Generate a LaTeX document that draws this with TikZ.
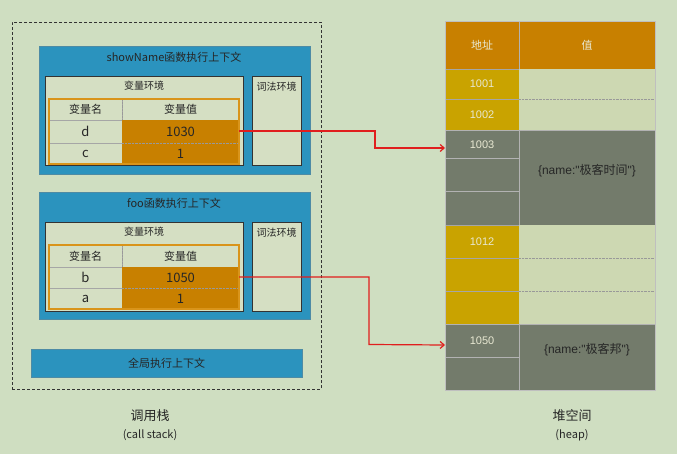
\documentclass[tikz,border=0pt]{standalone}
\usepackage{fontspec}
\setmainfont{Noto Sans CJK SC}
\newfontfamily\numfont{Liberation Sans}
\usetikzlibrary{arrows.meta}
\definecolor{bgc}{HTML}{CFDEC1}
\definecolor{ctxblue}{HTML}{2B93BE}
\definecolor{envfill}{HTML}{D5DFC3}
\definecolor{valorange}{HTML}{C88000}
\definecolor{tblborder}{HTML}{D9941A}
\definecolor{addryellow}{HTML}{C9A300}
\definecolor{heapgray}{HTML}{737B6B}
\definecolor{heaplight}{HTML}{CDD8B2}
\definecolor{arrowred}{HTML}{E01E1E}
\definecolor{addrtext}{HTML}{E8E8D2}
\newcommand\rect[6]{\node[#1, minimum width={(#4-#2)*1pt}, minimum height={(#5-#3)*1pt}] (#6) at (#2pt,-#3pt) {};}
\newcommand\lat[1]{{\numfont #1}}
\tikzset{
  box/.style={anchor=north west, inner sep=0pt, outer sep=0pt},
  ctx/.style={box, fill=ctxblue, draw=ctxblue!60!gray, line width=0.5pt},
  env/.style={box, fill=envfill, draw=black!80, line width=0.7pt},
  lightcell/.style={box, fill=envfill, draw=black!35, line width=0.4pt},
  valcell/.style={box, fill=valorange},
  tblframe/.style={box, draw=tblborder, line width=1.1pt},
  hhead/.style={box, fill=valorange, draw=black!30, line width=0.3pt},
  addr/.style={box, fill=addryellow, draw=black!35, line width=0.4pt},
  grayaddr/.style={box, fill=heapgray, draw=black!30, line width=0.4pt},
  hval/.style={box, fill=heaplight},
  grayval/.style={box, fill=heapgray, draw=black!30, line width=0.4pt},
  ttl/.style={font=\fontsize{11}{13}\selectfont, text=black!85},
  small/.style={font=\fontsize{10}{12}\selectfont, text=black!85},
  cellt/.style={font=\fontsize{11}{13}\selectfont, text=black!85},
  big/.style={font=\fontsize{13}{15}\selectfont, text=black!85},
  num/.style={font=\numfont\fontsize{11}{13}\selectfont, text=addrtext},
  objt/.style={font=\fontsize{12}{14}\selectfont, text=black!85},
  link/.style={draw=arrowred, line width=1.2pt, -{Straight Barb[length=4pt,width=7pt]}},
  sep/.style={draw=black!40, line width=0.4pt, densely dotted},
}
\begin{document}
\begin{tikzpicture}[x=1pt,y=1pt]
\fill[bgc] (0,0) rectangle (677,-454);
\useasboundingbox (0,0) rectangle (677,-454);
% outer call stack frame
\rect{box, draw=black!80, line width=0.8pt, densely dashed}{12}{22}{321}{389}{stack}
% showName context
\rect{ctx}{39}{46}{310}{174}{ctxA}
\node[ttl] (ctxAt) at (174,-57) {showName函数执行上下文};
\rect{env}{45}{76}{243}{165}{venvA}
\node[small] (venvAt) at (144,-86) {变量环境};
\rect{env}{252}{76}{301}{165}{lenvA}
\node[small, anchor=north] (lenvAt) at (276.5,-79) {词法环境};
\rect{lightcell}{49}{99}{122}{120}{hA1}
\rect{lightcell}{122}{99}{239}{120}{hA2}
\rect{lightcell}{49}{120}{122}{143}{nd}
\rect{lightcell}{49}{143}{122}{164}{nc}
\rect{valcell}{122}{120}{239}{143}{vd}
\rect{valcell}{122}{143}{239}{164}{vc}
\draw[sep] (vd.south west) -- (vd.south east);
\draw[sep] (hA1.north east) -- (hA1.south east);
\rect{tblframe}{49}{99}{239}{164}{tblA}
\node[cellt] at (hA1) {变量名};
\node[cellt] at (hA2) {变量值};
\node[big] at (nd) {d};
\node[big] at (nc) {c};
\node[big] at (vd) {1030};
\node[big] at (vc) {1};
% foo context
\rect{ctx}{39}{192}{310}{319}{ctxB}
\node[ttl] (ctxBt) at (174,-203) {foo函数执行上下文};
\rect{env}{45}{222}{243}{311}{venvB}
\node[small] (venvBt) at (144,-232) {变量环境};
\rect{env}{252}{222}{301}{311}{lenvB}
\node[small, anchor=north] (lenvBt) at (276.5,-225) {词法环境};
\rect{lightcell}{49}{245}{122}{267}{hB1}
\rect{lightcell}{122}{245}{239}{267}{hB2}
\rect{lightcell}{49}{267}{122}{288}{nb}
\rect{lightcell}{49}{288}{122}{309}{na}
\rect{valcell}{122}{267}{239}{288}{vb}
\rect{valcell}{122}{288}{239}{309}{va}
\draw[sep] (vb.south west) -- (vb.south east);
\draw[sep] (hB1.north east) -- (hB1.south east);
\rect{tblframe}{49}{245}{239}{309}{tblB}
\node[cellt] at (hB1) {变量名};
\node[cellt] at (hB2) {变量值};
\node[big] at (nb) {b};
\node[big] at (na) {a};
\node[big] at (vb) {1050};
\node[big] at (va) {1};
% global context
\rect{ctx}{31}{349}{302}{377}{glob}
\node[ttl] at (glob) {全局执行上下文};
\node[big] (stackt) at (150,-416) {调用栈};
\node[font=\fontsize{11}{13}\selectfont, text=black!85] (stackt2) at (150,-435) {(call stack)};
% heap
\rect{hhead}{445}{21}{519}{69}{hh1}
\rect{hhead}{519}{21}{655}{69}{hh2}
\node[font=\fontsize{11}{13}\selectfont, text=addrtext] at (hh1) {地址};
\node[font=\fontsize{11}{13}\selectfont, text=addrtext] at (hh2) {值};
\rect{addr}{445}{69}{519}{99}{a1001}
\rect{addr}{445}{99}{519}{130}{a1002}
\rect{hval}{519}{69}{655}{99}{v1001}
\rect{hval}{519}{99}{655}{130}{v1002}
\draw[sep] (v1001.south west) -- (v1001.south east);
\node[num] at (a1001) {1001};
\node[num] at (a1002) {1002};
\rect{grayaddr}{445}{130}{519}{158}{a1003}
\rect{grayaddr}{445}{158}{519}{191}{a1003b}
\rect{grayaddr}{445}{191}{519}{225}{a1003c}
\rect{grayval}{519}{130}{655}{225}{v1003}
\node[num] at ([yshift=-1pt]a1003) {1003};
\node[objt] at ([yshift=-41pt]v1003.north) {\lat{\{name:"}极客时间\lat{"\}}};
\rect{addr}{445}{225}{519}{258}{a1012}
\rect{addr}{445}{258}{519}{291}{a1012b}
\rect{addr}{445}{291}{519}{324}{a1012c}
\rect{hval}{519}{225}{655}{258}{v1012}
\rect{hval}{519}{258}{655}{291}{v1012b}
\rect{hval}{519}{291}{655}{324}{v1012c}
\draw[sep] (v1012.south west) -- (v1012.south east);
\draw[sep] (v1012b.south west) -- (v1012b.south east);
\node[num] at (a1012) {1012};
\rect{grayaddr}{445}{324}{519}{357}{a1050}
\rect{grayaddr}{445}{357}{519}{390}{a1050b}
\rect{grayval}{519}{324}{655}{390}{v1050}
\node[num] at (a1050) {1050};
\node[objt] at ([yshift=-26pt]v1050.north) {\lat{\{name:"}极客邦\lat{"\}}};
\draw[black!25, line width=0.5pt] (hh1.north west) rectangle (v1050.south east);
\node[big] (heapt) at (572,-416) {堆空间};
\node[font=\fontsize{11}{13}\selectfont, text=black!85] (heapt2) at (572,-435) {(heap)};
% connectors
\coordinate (s1) at ([yshift=0.5pt]vd.east);
\coordinate (s2) at ([yshift=0.5pt]vb.east);
\coordinate (e1) at (445,-148);
\coordinate (e2) at (445,-345);
\draw[link] (s1) -- ++(136,0) -- ++(0,-17) -- (e1);
\draw[link] (s2) -- ++(130,0) -- ++(0,-67.5) -- (e2);
\end{tikzpicture}
\end{document}
